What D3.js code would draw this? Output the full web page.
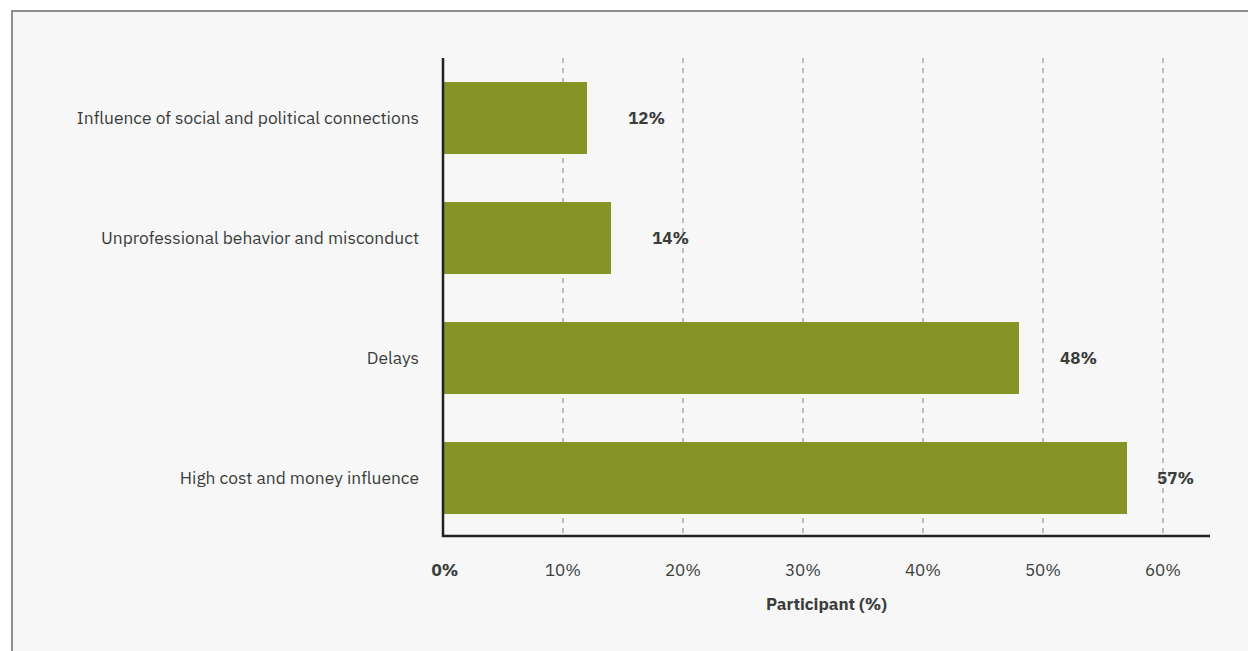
<!DOCTYPE html>
<html>
<head>
<meta charset="utf-8">
<script src="https://cdn.jsdelivr.net/npm/d3@7"></script>
<style>
  html, body { margin: 0; padding: 0; background: #ffffff; }
  svg { display: block; font-family: "IBM Plex Sans", "Noto Sans", sans-serif; }
</style>
</head>
<body>
<svg id="chart" width="1248" height="651"></svg>
<script>
// data
const categories = [
  "Influence of social and political connections",
  "Unprofessional behavior and misconduct",
  "Delays",
  "High cost and money influence"
];
const values = [12, 14, 48, 57];
const tickValues = [0, 10, 20, 30, 40, 50, 60];

//layout
const margin = {top: 58, right: 38, bottom: 115, left: 443};
const width = 1248, height = 651;

const svg = d3.select('#chart');

// panel background with the grey frame
svg.append("rect")
  .attr("x", 12).attr("y", 11)
  .attr("width", width + 20).attr("height", height + 20)
  .attr("fill", "#f7f7f7")
  .attr("stroke", "#8c8f8c")
  .attr("stroke-width", 2);

const x = d3.scaleLinear().domain([0, 60]).range([margin.left, 1163]);
const axisEnd = 1210;
const yBottom = 536;
const y = d3.scaleBand().domain(categories).range([58, 538]).paddingInner(0.4).paddingOuter(0.2);

// dashed grid lines
svg.append("g")
  .selectAll("line")
  .data(tickValues.filter(d => d > 0))
  .join("line")
  .attr("x1", d => x(d)).attr("x2", d => x(d))
  .attr("y1", margin.top).attr("y2", yBottom)
  .attr("stroke", "#aaaaaa")
  .attr("stroke-width", 1.5)
  .attr("stroke-dasharray", "5,5");

// bars
svg.append("g")
  .selectAll("rect")
  .data(values)
  .join("rect")
  .attr("x", x(0))
  .attr("y", (d, i) => y(categories[i]))
  .attr("width", d => x(d) - x(0))
  .attr("height", y.bandwidth())
  .attr("fill", "#869425");

// value labels
svg.append("g")
  .selectAll("text")
  .data(values)
  .join("text")
  .attr("x", d => Math.min(x(d) + 41, 1157))
  .attr("y", (d, i) => y(categories[i]) + y.bandwidth() / 2)
  .attr("dy", "0.35em")
  .attr("fill", "#3a3d3b")
  .style("font-size", "17px")
  .style("font-weight", "bold")
  .text(d => d + "%");

// category labels
svg.append("g")
  .selectAll("text")
  .data(categories)
  .join("text")
  .attr("x", 419)
  .attr("y", d => y(d) + y.bandwidth() / 2)
  .attr("dy", "0.35em")
  .attr("text-anchor", "end")
  .attr("fill", "#3a3d3b")
  .style("font-size", "17.4px")
  .text(d => d);

// axes lines
svg.append("line")
  .attr("x1", x(0)).attr("x2", x(0))
  .attr("y1", margin.top).attr("y2", yBottom + 1)
  .attr("stroke", "#1f2320").attr("stroke-width", 2.5);
svg.append("line")
  .attr("x1", x(0) - 1).attr("x2", axisEnd)
  .attr("y1", yBottom).attr("y2", yBottom)
  .attr("stroke", "#1f2320").attr("stroke-width", 2.5);

// tick labels
svg.append("g")
  .selectAll("text")
  .data(tickValues)
  .join("text")
  .attr("x", d => d === 0 ? x(d) + 2 : x(d))
  .attr("y", 576)
  .attr("text-anchor", "middle")
  .attr("fill", "#3a3d3b")
  .style("font-size", "17px")
  .style("font-weight", d => d === 0 ? "bold" : "normal")
  .text(d => d + "%");

// axis title
svg.append("text")
  .attr("x", (x(0) + axisEnd) / 2)
  .attr("y", 610)
  .attr("text-anchor", "middle")
  .attr("fill", "#3a3d3b")
  .style("font-size", "17px")
  .style("font-weight", "bold")
  .text("Participant (%)");
</script>
</body>
</html>
